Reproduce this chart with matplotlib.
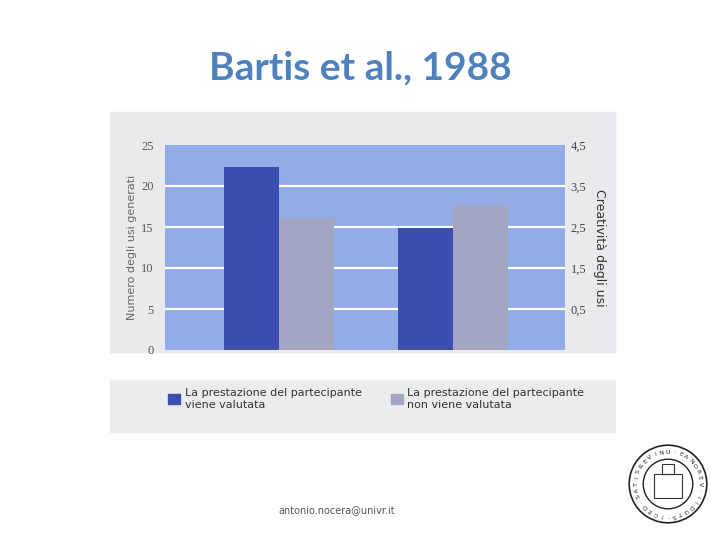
import numpy as np
import matplotlib.pyplot as plt
from matplotlib.patches import Rectangle, Circle

# data
groups = ["Numero degli usi generati", "Creatività degli usi"]
valutata_usi = 22.3
non_valutata_usi = 16.1
valutata_creat = 2.48
non_valutata_creat = 3.04
left_ticks = [0, 5, 10, 15, 20, 25]
right_ticks = [0.5, 1.5, 2.5, 3.5, 4.5]
right_labels = ["0,5", "1,5", "2,5", "3,5", "4,5"]
legend_labels = ["La prestazione del partecipante\nviene valutata",
                 "La prestazione del partecipante\nnon viene valutata"]

dark = "#3d4fae"
grey = "#a3a6c2"
bg = "#93abe6"
tick_font = "Liberation Serif"

fig = plt.figure(figsize=(7.2, 5.4), dpi=100)

# scanned paper behind the chart
fig.patches.append(Rectangle((110 / 720, 1 - 352 / 540), 505 / 720, 240 / 540,
                             transform=fig.transFigure, color="#eaeaee", zorder=-1))
fig.patches.append(Rectangle((110 / 720, 1 - 432 / 540), 505 / 720, 52 / 540,
                             transform=fig.transFigure, color="#ececef", zorder=-1))

ax = fig.add_axes([165 / 720, 1 - 350 / 540, 400 / 720, 205 / 540])
ax.set_facecolor(bg)
ax.set_xlim(0, 400)
ax.set_ylim(0, 25)
ax.set_yticks(left_ticks)
ax.set_yticklabels([str(t) for t in left_ticks], family=tick_font, fontsize=9, color="#555555")
ax.set_xticks([])
ax.tick_params(axis="y", length=0, pad=8)
for y in left_ticks[1:-1]:
    ax.axhline(y, color="white", lw=1.6, zorder=1)
for s in ax.spines.values():
    s.set_visible(False)
ax.set_ylabel(groups[0], family="DejaVu Sans", fontsize=8, color="#666666", labelpad=3)

w = 55
ax.bar(59, valutata_usi, width=w, align="edge", color=dark, zorder=2)
ax.bar(114, non_valutata_usi, width=w, align="edge", color=grey, zorder=2)

ax2 = ax.twinx()
ax2.set_ylim(-0.5, 4.5)
ax2.set_yticks(right_ticks)
ax2.set_yticklabels(right_labels, family=tick_font, fontsize=9, color="#444444")
ax2.tick_params(axis="y", length=0, pad=4)
for s in ax2.spines.values():
    s.set_visible(False)
ax2.bar(233, valutata_creat + 0.5, bottom=-0.5, width=w, align="edge", color=dark, zorder=2)
ax2.bar(288, non_valutata_creat + 0.5, bottom=-0.5, width=w, align="edge", color=grey, zorder=2)
ax2.set_ylabel(groups[1], family="DejaVu Sans", fontsize=9, color="#333333",
               rotation=-90, labelpad=14)

# legend below
handles = [Rectangle((0, 0), 1, 1, color=dark), Rectangle((0, 0), 1, 1, color=grey)]
fig.legend(handles, legend_labels, loc="upper left", bbox_to_anchor=(158 / 720, 1 - 378 / 540),
           ncol=2, frameon=False, fontsize=8, handlelength=1.1, handleheight=1.1,
           handletextpad=0.4, columnspacing=2.6, labelcolor="#333333")

fig.text(360 / 720, 1 - 68 / 540, "Bartis et al., 1988", ha="center", va="center",
         fontsize=28, fontweight="bold", color="#4f81bd", family="Lato")
fig.text(337 / 720, 1 - 510 / 540, "antonio.nocera@univr.it", ha="center", va="center",
         fontsize=7, color="#555555")

# university seal, roughly
lax = fig.add_axes([628 / 720, 1 - 524 / 540, 80 / 720, 80 / 540])
lax.set_xlim(-1, 1)
lax.set_ylim(-1, 1)
lax.set_aspect("equal")
lax.axis("off")
lax.add_patch(Circle((0, 0), 0.97, fill=False, lw=1.2, color="#222222"))
lax.add_patch(Circle((0, 0), 0.62, fill=False, lw=1.0, color="#222222"))
seal = "UNIVERSITAS·DECI·STUDII·VERONAE·"
for i, ch in enumerate(seal):
    a = np.pi / 2 + 2 * np.pi * i / len(seal)
    lax.text(0.8 * np.cos(a), 0.8 * np.sin(a), ch, ha="center", va="center", fontsize=4.5,
             rotation=np.degrees(a) - 90, color="#222222")
lax.add_patch(Rectangle((-0.35, -0.35), 0.7, 0.6, fill=False, lw=0.8, color="#333333"))
lax.add_patch(Rectangle((-0.15, 0.25), 0.3, 0.25, fill=False, lw=0.8, color="#333333"))

fig.savefig("out.png", dpi=100)
